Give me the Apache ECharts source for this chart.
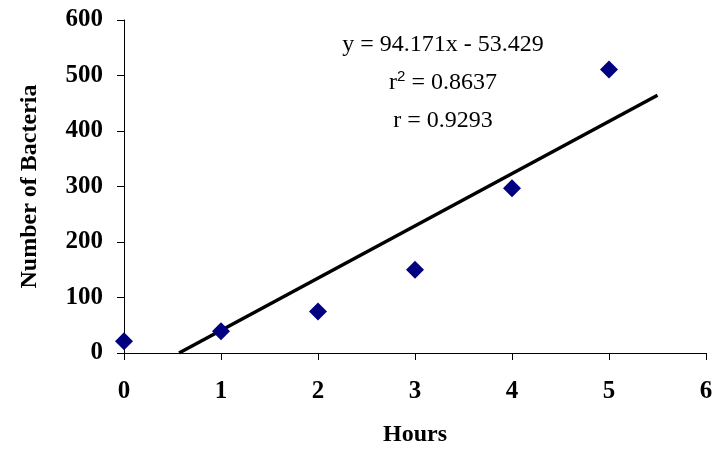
<!DOCTYPE html>
<html>
<head>
<meta charset="utf-8">
<script src="https://cdn.jsdelivr.net/npm/echarts@6/dist/echarts.min.js"></script>
<style>
  html, body { margin: 0; padding: 0; background: #fff; }
  #chart { width: 728px; height: 452px; }
</style>
</head>
<body>
<div id="chart"></div>
<script>
// data
var hours = [0, 1, 2, 3, 4, 5];
var bacteria = [21, 39, 75, 150, 297, 511];
var yTicks = [0, 100, 200, 300, 400, 500, 600];
var xTicks = [0, 1, 2, 3, 4, 5, 6];

// trendline as printed on the chart
var slope = 94.171;
var intercept = -53.429;
var trendEndX = 5.5;
var eqLines = ['y = 94.171x - 53.429', 'r{sup|2} = 0.8637', 'r = 0.9293'];

var points = hours.map(function (h, i) { return [h, bacteria[i]]; });
var trendStartX = -intercept / slope; // clipped at y = 0
var trend = [
    [trendStartX, slope * trendStartX + intercept],
    [trendEndX, slope * trendEndX + intercept]
];

var serif = '"Liberation Serif", "Times New Roman", serif';
var chart = echarts.init(document.getElementById('chart'));

var option = {
    animation: false,
    backgroundColor: '#fff',
    grid: { left: 124, right: 22, top: 20, bottom: 97 },
    xAxis: {
        type: 'value',
        min: xTicks[0],
        max: xTicks[xTicks.length - 1],
        interval: 1,
        name: 'Hours',
        nameLocation: 'middle',
        nameGap: 70,
        nameTextStyle: { fontFamily: serif, fontWeight: 'bold', fontSize: 24, color: '#000' },
        axisLine: { show: true, lineStyle: { color: '#000', width: 1 } },
        axisTick: { show: true, length: 7, lineStyle: { color: '#000' } },
        axisLabel: { fontFamily: serif, fontWeight: 'bold', fontSize: 25, color: '#000', margin: 26 },
        splitLine: { show: false }
    },
    yAxis: {
        type: 'value',
        min: yTicks[0],
        max: yTicks[yTicks.length - 1],
        interval: 100,
        name: 'Number of Bacteria',
        nameLocation: 'middle',
        nameGap: 82,
        nameTextStyle: { fontFamily: serif, fontWeight: 'bold', fontSize: 24, color: '#000' },
        axisLine: { show: true, lineStyle: { color: '#000', width: 1 } },
        axisTick: { show: true, length: 7, lineStyle: { color: '#000' } },
        axisLabel: { fontFamily: serif, fontWeight: 'bold', fontSize: 25, color: '#000', margin: 21 },
        splitLine: { show: false }
    },
    series: [
        {
            name: 'Trend',
            type: 'line',
            data: trend,
            symbol: 'none',
            lineStyle: { color: '#000', width: 3.5 },
            z: 2
        },
        {
            name: 'Bacteria',
            type: 'scatter',
            data: points,
            symbol: 'diamond',
            symbolSize: [18, 18],
            itemStyle: { color: '#000080', opacity: 1 },
            z: 3
        }
    ],
    graphic: eqLines.map(function (t, i) {
        return {
            type: 'text',
            x: 443,
            y: 45 + i * 38,
            style: {
                text: t,
                align: 'center',
                verticalAlign: 'middle',
                fontFamily: serif,
                fontSize: 24,
                fill: '#000',
                rich: { sup: { fontSize: 15, verticalAlign: 'top', padding: [0, 0, 12, 0] } }
            }
        };
    })
};

chart.setOption(option);
</script>
</body>
</html>
